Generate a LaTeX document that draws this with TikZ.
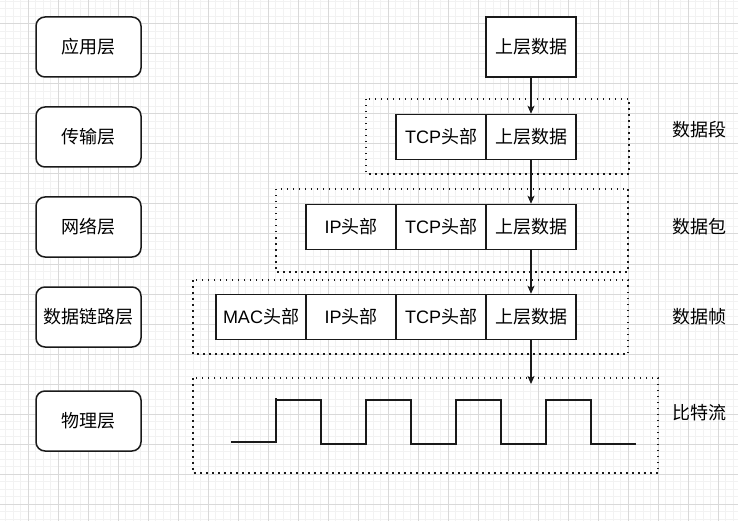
\documentclass[tikz,border=0pt]{standalone}
\usepackage{fontspec}
\setmainfont{Liberation Sans}
\newfontfamily\cjk{Noto Sans CJK SC}
\usetikzlibrary{arrows.meta}
\definecolor{minorgrid}{HTML}{F2F2F2}
\definecolor{majorgrid}{HTML}{D9D9D9}
\definecolor{ink}{HTML}{1A1A1A}
\begin{document}
\begin{tikzpicture}[x=1pt,y=-1pt,
 layerbox/.style={draw=ink, line width=1.5pt, rounded corners=9pt, fill=white, minimum width=105pt, minimum height=60pt, inner sep=0pt, font=\fontsize{18}{20}\selectfont\cjk},
 cell/.style={draw=ink, line width=1.5pt, fill=white, minimum width=90pt, minimum height=45pt, inner sep=0pt, font=\fontsize{18}{20}\selectfont},
 grp/.style={draw=ink, line width=1.5pt, dash pattern=on 1.5pt off 4.5pt},
 flow/.style={draw=ink, line width=1.5pt, -{Stealth[length=8pt,width=7pt,inset=2pt]}},
 wave/.style={draw=ink, line width=1.5pt},
 lbl/.style={font=\fontsize{18}{20}\selectfont\cjk, inner sep=0pt},
 minorline/.style={draw=minorgrid, line width=1pt},
 majorline/.style={draw=majorgrid, line width=1pt},
 ]
\useasboundingbox (0,0) rectangle (738,521);
\fill[white] (0,0) rectangle (738,521);
% grid
\foreach \i in {0,...,98} { \draw[minorline] ({5.8+7.5*\i},0) -- ({5.8+7.5*\i},521); }
\foreach \i in {0,...,69} { \draw[minorline] (0,{1.5+7.5*\i}) -- (738,{1.5+7.5*\i}); }
\foreach \i in {0,...,23} { \draw[majorline] ({28.3+30*\i},0) -- ({28.3+30*\i},521); }
\foreach \i in {0,...,16} { \draw[majorline] (0,{24+30*\i}) -- (738,{24+30*\i}); }

% left layer boxes
\node[layerbox] (app) at (88.5,47) {应用层};
\node[layerbox] (trans) at (88.5,137) {传输层};
\node[layerbox] (net) at (88.5,227) {网络层};
\node[layerbox] (link) at (88.5,317) {数据链路层};
\node[layerbox] (phy) at (88.5,421) {物理层};

% dotted groups
\draw[grp] (366,99) rectangle (629,174);
\draw[grp] (276,189) rectangle (628,272);
\draw[grp] (193,280) rectangle (628,354);
\draw[grp] (193,378) rectangle (658,473);

% cells
\node[cell, minimum height=60pt] (d0) at (531,47) {{\cjk 上层数据}};
\node[cell] (tcp1) at (441,137) {TCP{\cjk 头部}};
\node[cell] (d1) at (531,137) {{\cjk 上层数据}};
\node[cell] (ip2) at (351,227) {IP{\cjk 头部}};
\node[cell] (tcp2) at (441,227) {TCP{\cjk 头部}};
\node[cell] (d2) at (531,227) {{\cjk 上层数据}};
\node[cell] (mac3) at (261,317) {MAC{\cjk 头部}};
\node[cell] (ip3) at (351,317) {IP{\cjk 头部}};
\node[cell] (tcp3) at (441,317) {TCP{\cjk 头部}};
\node[cell] (d3) at (531,317) {{\cjk 上层数据}};

% arrows
\coordinate (bitin) at (531,384);
\draw[flow] (d0.south) -- (d1.north);
\draw[flow] (d1.south) -- (d2.north);
\draw[flow] (d2.south) -- (d3.north);
\draw[flow] (d3.south) -- (bitin);

% square wave
\draw[wave] (231,442) -- (276,442) -- (276,398);
\draw[wave, line join=miter] (276,400) -- (321,400) -- (321,444) -- (366,444) -- (366,400) -- (411,400) -- (411,444) -- (456,444) -- (456,400) -- (501,400) -- (501,444) -- (546,444) -- (546,400) -- (591,400) -- (591,444) -- (636,444);

% right labels
\node[lbl] (segl) at (699,130) {数据段};
\node[lbl] (pktl) at (699,227) {数据包};
\node[lbl] (frml) at (699,317) {数据帧};
\node[lbl] (bitl) at (699,413) {比特流};
\end{tikzpicture}
\end{document}
